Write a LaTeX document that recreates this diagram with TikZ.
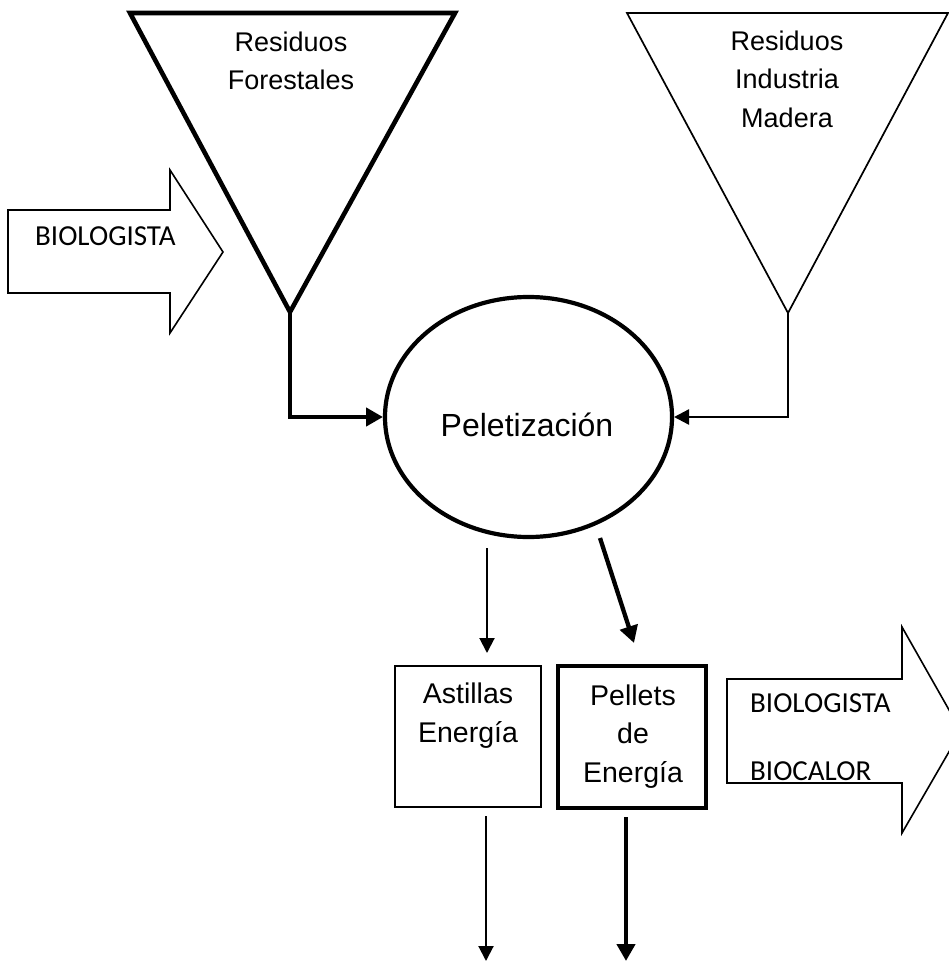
\documentclass[tikz,border=0pt]{standalone}
\usepackage{fontspec}
\setmainfont{Liberation Sans}
\newfontfamily\calibri{Carlito}
\usetikzlibrary{arrows.meta,shapes.geometric}
\begin{document}
\begin{tikzpicture}[x=1pt,y=-1pt,
  thickln/.style={line width=4.3pt},
  thinln/.style={line width=1.7pt},
  headthin/.style={-{Triangle[length=15pt,width=15pt]}},
  headthick/.style={-{Triangle[length=17pt,width=18pt]}},
  lbl/.style={font=\fontsize{27}{38}\selectfont, inner sep=0pt, anchor=base},
  boxlbl/.style={font=\fontsize{28.5}{38.5}\selectfont, inner sep=0pt, anchor=base},
  cal/.style={font=\calibri\fontsize{29}{34}\selectfont, inner sep=0pt, anchor=base west},
  line join=miter]
\useasboundingbox (0,0) rectangle (949,961);
\clip (0,0) rectangle (949,961);

% funnels (triangles)
\coordinate (aL) at (290,312);
\coordinate (aR) at (788,313);
\draw[line width=4.6pt] (130,13) -- (455,13) -- (aL) -- cycle;
\draw[line width=1.7pt] (627,13) -- (948,13) -- (aR) -- cycle;
\node[lbl] (rf1) at (291,51) {Residuos};
\node[lbl] (rf2) at (291,89) {Forestales};
\node[lbl] (ri1) at (787,50) {Residuos};
\node[lbl] (ri2) at (787,88) {Industria};
\node[lbl] (ri3) at (787,127) {Madera};

% big arrows
\draw[line width=1.6pt] (8,210) -- (170,210) -- (170,170) -- (223,252) -- (170,333) -- (170,293) -- (8,293) -- cycle;
\node[cal] (bio1) at (35,245) {BIOLOGISTA};
\draw[line width=1.6pt] (727,679) -- (902,679) -- (902,627) -- (961,731) -- (902,833) -- (902,783) -- (727,783) -- cycle;
\node[cal] (bio2) at (750,712) {BIOLOGISTA};
\node[cal] (bio3) at (750,780) {BIOCALOR};

% process ellipse
\node[ellipse, draw, line width=4.2pt, minimum width=287pt, minimum height=240pt, inner sep=0pt, outer sep=0pt] (ell) at (528.5,417) {};
\node[font=\fontsize{32}{38}\selectfont, inner sep=0pt, anchor=base] (pel) at (527,436) {Peletización};

% inputs to ellipse
\draw[thickln, headthick] (aL) |- ([xshift=-2pt]ell.west);
\draw[line width=2.4pt, headthin] (aR) |- ([xshift=2pt]ell.east);

% product boxes
\node[draw, thinln, minimum width=146pt, minimum height=141pt, inner sep=0pt] (ast) at (468,736.5) {};
\node[boxlbl] (astt1) at (468,703) {Astillas};
\node[boxlbl] (astt2) at (468,742) {Energía};
\node[draw, line width=4.2pt, minimum width=148pt, minimum height=142pt, inner sep=0pt] (pell) at (632,737) {};
\node[boxlbl] (pelt1) at (633,705) {Pellets};
\node[boxlbl] (pelt2) at (633,743) {de};
\node[boxlbl] (pelt3) at (633,782) {Energía};

% outputs from ellipse
\coordinate (s1) at (487,548);
\coordinate (e1) at (487,653);
\coordinate (s2) at (600,538);
\coordinate (e2) at (634,643);
\draw[line width=2pt, headthin] (s1) -- (e1);
\draw[thickln, headthick] (s2) -- (e2);

% outputs from boxes
\coordinate (s3) at (486,816);
\coordinate (e3) at (486,961);
\coordinate (s4) at (626,817);
\coordinate (e4) at (626,961);
\draw[line width=2pt, headthin] (s3) -- (e3);
\draw[thickln, headthick] (s4) -- (e4);
\end{tikzpicture}
\end{document}
